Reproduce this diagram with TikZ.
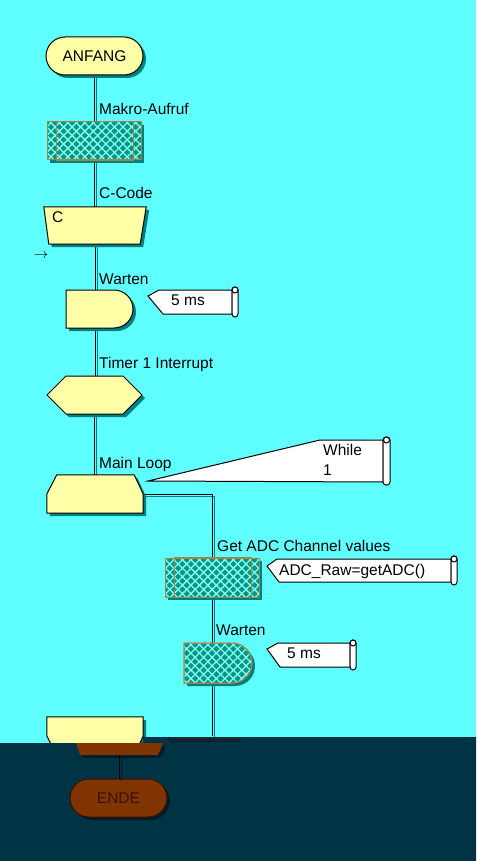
\documentclass[tikz,border=0pt]{standalone}
\usepackage{fontspec}
\setmainfont{Liberation Sans}
\usetikzlibrary{shapes.misc,shapes.symbols,shadows,patterns.meta,calc}
\pgfdeclarelayer{back}
\pgfdeclarelayer{lines}
\pgfsetlayers{back,lines,main}

\definecolor{bgcyan}{RGB}{96,255,255}
\definecolor{bgdark}{RGB}{0,52,68}
\definecolor{blockyellow}{RGB}{255,255,168}
\definecolor{shadowteal}{RGB}{0,128,128}
\definecolor{hatchbase}{RGB}{0,150,150}
\definecolor{hatchline}{RGB}{140,255,220}
\definecolor{hatchedge}{RGB}{170,130,70}
\definecolor{endbrown}{RGB}{128,52,0}
\definecolor{enddark}{RGB}{60,16,0}
\definecolor{darkshadow}{RGB}{0,30,40}

\tikzset{
  blk/.style={draw=black, fill=blockyellow, line width=1pt, inner sep=0pt},
  yshade/.style={drop shadow={shadow xshift=3pt, shadow yshift=-3pt, fill=shadowteal, opacity=1}},
  dshade/.style={drop shadow={shadow xshift=3pt, shadow yshift=-3pt, fill=darkshadow, opacity=1}},
  terminal/.style={blk, rounded rectangle, minimum width=97pt, minimum height=38pt},
  hatched/.style={draw=hatchedge, fill=hatchbase, line width=1pt, inner sep=0pt, yshade,
    postaction={pattern={Lines[angle=45,distance=6pt,line width=1.3pt]}, pattern color=hatchline},
    postaction={pattern={Lines[angle=-45,distance=6pt,line width=1.3pt]}, pattern color=hatchline},
    postaction={draw=hatchedge, line width=1pt}},
  edgeline/.style={draw=hatchedge, line width=1.2pt},
  flow/.style={draw=black, line width=1pt,
    preaction={draw=shadowteal, line width=1pt, transform canvas={xshift=2pt, yshift=-2pt}}},
  dimflow/.style={draw=enddark, line width=1pt,
    preaction={draw=black!40!bgdark, line width=1pt, transform canvas={xshift=2pt, yshift=-2pt}}},
  lbl/.style={anchor=base west, inner sep=0pt},
  note/.style={draw=black, fill=white, line width=1pt},
}

\begin{document}
\begin{tikzpicture}[x=1pt, y=-1pt, font=\fontsize{15.5}{18}\selectfont]
\begin{pgfonlayer}{back}
  \fill[bgcyan] (0,0) rectangle (476,861);
\end{pgfonlayer}
\useasboundingbox (0,0) rectangle (476,861);

% main strand
\node[terminal, yshade] (anfang) at (94.5,56) {ANFANG};
\node[hatched, minimum width=94pt, minimum height=38pt] (makro) at (94,141) {};
\draw[edgeline] ([xshift=10pt]makro.north west) rectangle ([xshift=-8pt]makro.south east);
\node[minimum width=102pt, minimum height=37pt, inner sep=0pt] (ccode) at (95,225.5) {};
\path[blk, yshade] (ccode.north west) -- (ccode.north east) -- ($(ccode.south east)+(-6,0)$)
  -- ($(ccode.south west)+(5,0)$) -- cycle;
\node[lbl] (ctext) at (52,222) {C};
\node[inner sep=0pt, font=\fontsize{15}{18}\selectfont] (arrowmark) at (41,256) {$\rightarrow$};
\node[blk, yshade, rounded rectangle, rounded rectangle left arc=none,
  minimum width=67pt, minimum height=38pt] (warten) at (99.5,309) {};
\node[blk, yshade, signal, signal to=east and west, signal pointer angle=90,
  minimum width=95pt, minimum height=38pt] (timer) at (94.5,395) {};
\node[minimum width=96pt, minimum height=38pt, inner sep=0pt] (mainloop) at (95,494) {};
\path[blk, yshade] ($(mainloop.north west)+(10,0)$) -- ($(mainloop.north east)+(-9,0)$)
  -- (mainloop.east) -- (mainloop.south east) -- (mainloop.south west) -- (mainloop.west) -- cycle;

% loop body
\node[hatched, minimum width=94pt, minimum height=39pt] (adc) at (212,577.5) {};
\draw[edgeline] ([xshift=10pt]adc.north west) rectangle ([xshift=-8pt]adc.south east);
\node[hatched, rounded rectangle, rounded rectangle left arc=none,
  minimum width=68pt, minimum height=40pt] (warten2) at (218,663) {};
\node[minimum width=96pt, minimum height=38pt, inner sep=0pt] (loopend) at (95,736) {};
\path[blk, yshade] (loopend.north west) -- (loopend.north east) -- (loopend.east)
  -- ($(loopend.south east)+(-9,0)$) -- ($(loopend.south west)+(10,0)$) -- (loopend.west) -- cycle;

% labels
\node[lbl] (lblmakro) at (99,115) {Makro-Aufruf};
\node[lbl] (lblccode) at (99,198) {C-Code};
\node[lbl] (lblwarten) at (99,284) {Warten};
\node[lbl] (lbltimer) at (99,368) {Timer 1 Interrupt};
\node[lbl] (lblloop) at (99,468) {Main Loop};
\node[lbl] (lbladc) at (217,551) {Get ADC Channel values};
\node[lbl] (lblwarten2) at (216,635) {Warten};

% notes
\foreach \p/\q/\l/\bl/\r/\t/\b in {148/296/159/163/232/290/314, 267/566/277/279/451/559/582,
  267/649/278/280/350/643/667}{
  \draw[note] (\p,\q) -- (\l,\t) -- (\r,\t) -- (\r,\b) -- (\bl,\b) -- cycle;
  \draw[note, rounded corners=3pt] (\r,\t-3) rectangle (\r+6,\b+3);
  \draw[note] (\r+3,\t) circle (3);
}
\draw[note] (148,481) -- (320,440) -- (383,440) -- (383,482) -- cycle;
\draw[note, rounded corners=3pt] (383,437) rectangle (390,485);
\draw[note] (386.5,440) circle (3);
\node[lbl] (notewait) at (171,305) {5 ms};
\node[lbl] (notewhile) at (323,455) {While};
\node[lbl] (notecond) at (323,475) {1};
\node[lbl] (noteadc) at (279,575) {ADC\_Raw=getADC()};
\node[lbl] (notewait2) at (287,658) {5 ms};

\begin{pgfonlayer}{lines}
  \draw[flow] (anfang.south) -- (anfang.south |- makro.north);
  \draw[flow] (anfang.south |- makro.south) -- (anfang.south |- ccode.north);
  \draw[flow] (ccode.south) -- (ccode.south |- warten.north);
  \draw[flow] (ccode.south |- warten.south) -- (ccode.south |- timer.north);
  \draw[flow] (timer.south) -- (timer.south |- mainloop.north);
  \draw[flow] (mainloop.east) -- (mainloop.east -| adc.north) -- (adc.north);
  \draw[flow] (adc.south) -- (adc.south |- warten2.north);
  \draw[flow] (adc.south |- warten2.south) -- (adc.south |- loopend.east);
\end{pgfonlayer}

% dark lower part
\fill[bgdark] (0,743) -- (143,743) -- (143,737) -- (476,737) -- (476,861) -- (0,861) -- cycle;
\coordinate (retA) at (168,739);
\coordinate (retB) at (240,739);
\draw[dimflow] (retA) -- (retB);
\path[fill=endbrown, dshade] (76,743) -- (163,743) -- (158,755) -- (80,755) -- cycle;
\coordinate (loopfoot) at (119,755);
\node[terminal, dshade, fill=endbrown, draw=enddark, text=enddark] (ende) at (118.5,798) {ENDE};
\draw[dimflow, draw=black] (loopfoot) -- (loopfoot |- ende.north);
\end{tikzpicture}
\end{document}
